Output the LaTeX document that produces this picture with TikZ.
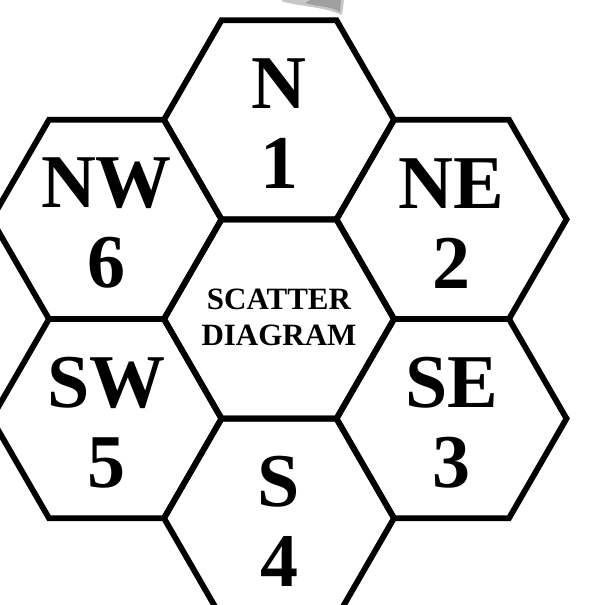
\documentclass[tikz,border=0pt]{standalone}
\usepackage{fontspec}
\setmainfont{Liberation Serif}
\begin{document}
\begin{tikzpicture}[x=1pt,y=1pt,
  hexline/.style={line width=5.8pt, line join=miter},
  bigtext/.style={font=\fontsize{76}{80}\selectfont\bfseries, align=center, inner sep=0pt},
  midtext/.style={font=\fontsize{31}{36}\selectfont\bfseries, align=center, inner sep=0pt}]

    \useasboundingbox (0,0) rectangle (593,-605);
    \clip (0,0) rectangle (593,-605);

    % smudge on top
    \fill[gray!45] (281,-1) .. controls (300,-7) and (322,-6) .. (342,-15) -- (344,0) -- (283,0) -- cycle;
    \fill[gray!75] (305,-3) .. controls (320,-7) and (330,-6) .. (340,-12) -- (341,0) -- (310,0) -- cycle;

    % centres
    \coordinate (C) at (279,-319);
    \foreach \name/\ang in {N/90,NE/30,SE/-30,S/-90,SW/-150,NW/150}
        \coordinate (\name) at ([shift={(\ang:199.2)}]C);

    % hexagons
    \foreach \c in {C,N,NE,SE,S,SW,NW}
        \draw[hexline] (\c) ++(0:115) -- ++(120:115) -- ++(180:115) -- ++(240:115) -- ++(300:115) -- ++(0:115) -- cycle;

    % labels
    \node[midtext, yshift=2pt] (lC) at (C) {SCATTER\\DIAGRAM};
    \node[bigtext, yshift=-4pt] (lN) at (N) {N\\1};
    \node[bigtext, yshift=-4pt] (lNE) at (NE) {NE\\2};
    \node[bigtext, yshift=-4pt] (lSE) at (SE) {SE\\3};
    \node[bigtext, yshift=-3pt] (lS) at (S) {S\\4};
    \node[bigtext, yshift=-4pt] (lSW) at (SW) {SW\\5};
    \node[bigtext, yshift=-4pt] (lNW) at (NW) {NW\\6};
\end{tikzpicture}
\end{document}
